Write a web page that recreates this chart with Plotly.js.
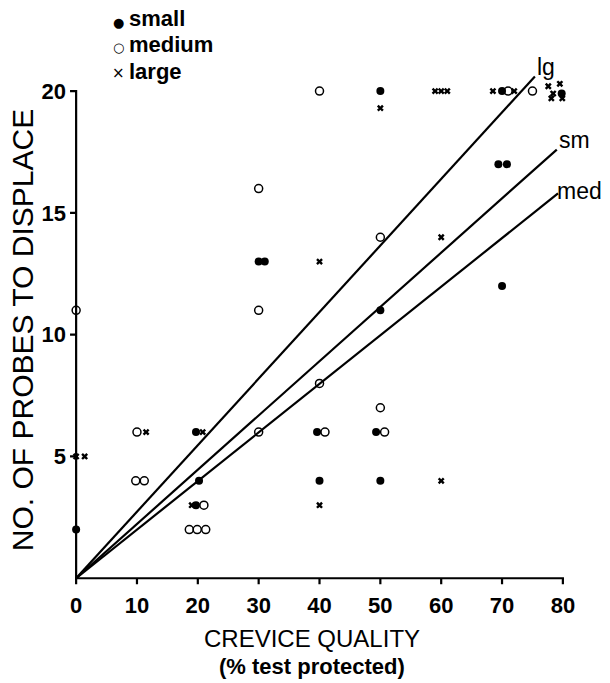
<!DOCTYPE html>
<html>
<head>
<meta charset="utf-8">
<script src="https://cdn.plot.ly/plotly-3.0.1.min.js"></script>
<style>html,body{margin:0;padding:0;background:#fff;}#chart{width:610px;height:683px;}</style>
</head>
<body>
<div id="chart"></div>
<script>
// Data
const smallX = [0, 19.7, 20.2, 19.7, 30, 31, 39.6, 40, 49.3, 50, 50, 50, 69.4, 70.8, 70, 70, 79.8];
const smallY = [2, 6, 4, 3, 13, 13, 6, 4, 6, 4, 11, 20, 17, 17, 12, 20, 19.9];

const mediumX = [0, 10, 9.8, 11.2, 18.6, 19.9, 21.3, 21, 30, 30, 30, 40, 40, 40.9, 50, 50, 50.7, 71, 75];
const mediumY = [11, 6, 4, 4, 2, 2, 2, 3, 16, 11, 6, 20, 8, 6, 14, 7, 6, 20, 20];

const largeX = [0, 1.4, 11.5, 19, 20.8, 40, 40, 50, 59, 60, 61, 60, 60, 68.5, 72, 77.6, 79.5, 78.4, 78.1, 79.9];
const largeY = [5, 5, 6, 3, 6, 13, 3, 19.3, 20, 20, 20, 14, 4, 20, 20, 20.2, 20.3, 19.9, 19.7, 19.7];

// Fitted lines (from origin to end point) and their labels
const lineNames = ["lg", "sm", "med"];
const lineEndX = [75.4, 79.0, 79.2];
const lineEndY = [20.6, 17.6, 15.8];
const lineLabelX = [77.2, 81.9, 82.8];
const lineLabelY = [21.0, 18.0, 15.9];

const xTicks = [0, 10, 20, 30, 40, 50, 60, 70, 80];
const xTickText = ["0", "10", "20", "30", "40", "50", "60", "70", "80"];
const yTicks = [5, 10, 15, 20];
const yTickText = ["5", "10", "15", "20"];

const legendNames = ["small", "medium", "large"];
const legendGlyphs = ["●", "○", "×"];

// style constants (axis units): outward tick lengths
const TICK_X = 1.0, TICK_Y = 0.25;

const FONT = "Liberation Sans, Arial, Helvetica, sans-serif";
const bold = s => "<b>" + s + "</b>";

// Axis frame (stops at the last tick, as in the reference) with outward ticks
const axisX = [], axisY = [];
yTicks.slice().sort((a, b) => b - a).forEach(t => { axisX.push(0, -TICK_X, 0); axisY.push(t, t, t); });
axisX.push(0); axisY.push(0);
xTicks.forEach(t => { axisX.push(t, t, t); axisY.push(0, -TICK_Y, 0); });

const traces = [
  {name: "axes", x: axisX, y: axisY, mode: "lines", type: "scatter", showlegend: false,
   hoverinfo: "skip", line: {color: "#000", width: 2.2, simplify: false}}
];
for (let i = 0; i < lineNames.length; i++) {
  traces.push({
    name: lineNames[i],
    x: [0, lineEndX[i]], y: [0, lineEndY[i]],
    mode: "lines", type: "scatter", showlegend: false, hoverinfo: "skip",
    line: {color: "#000", width: 2.2}
  });
}
traces.push({
  name: "small", x: smallX, y: smallY, type: "scatter", mode: "markers", cliponaxis: false,
  marker: {symbol: "circle", size: 8, color: "#000", line: {width: 0}}
});
traces.push({
  name: "medium", x: mediumX, y: mediumY, type: "scatter", mode: "markers", cliponaxis: false,
  marker: {symbol: "circle-open", size: 8, color: "#000", line: {width: 1.5, color: "#000"}}
});
traces.push({
  name: "large", x: largeX, y: largeY, type: "scatter", mode: "markers", cliponaxis: false,
  marker: {symbol: "x", size: 6, color: "#000", line: {width: 0}}
});

const annotations = lineNames.map((n, i) => ({
  x: lineLabelX[i], y: lineLabelY[i], xref: "x", yref: "y", text: n, showarrow: false,
  font: {family: FONT, size: 23, color: "#000"}, xanchor: "center", yanchor: "middle"
}));
annotations.push({
  xref: "paper", yref: "paper", x: 0.46, y: -0.0948, text: "CREVICE QUALITY",
  showarrow: false, xanchor: "center", yanchor: "middle",
  font: {family: FONT, size: 24, color: "#000"}
});
annotations.push({
  xref: "paper", yref: "paper", x: 0.46, y: -0.1477, text: bold("(% test protected)"),
  showarrow: false, xanchor: "center", yanchor: "middle",
  font: {family: FONT, size: 22, color: "#000"}
});
annotations.push({
  xref: "paper", yref: "paper", x: -0.0844, y: 0.4856, text: "NO. OF PROBES TO DISPLACE",
  textangle: -90, showarrow: false, xanchor: "center", yanchor: "middle",
  font: {family: FONT, size: 30, color: "#000"}
});
// legend drawn as text
const legGlyphY = [1.0658, 1.0178, 0.9698];
const legTextY = [1.0716, 1.0226, 0.9736];
const glyphSize = [13, 13, 15];
legendNames.forEach((n, i) => {
  annotations.push({
    xref: "paper", yref: "paper", x: 0.0957, y: legGlyphY[i], text: legendGlyphs[i],
    showarrow: false, xanchor: "center", yanchor: "middle",
    font: {family: "DejaVu Sans", size: glyphSize[i], color: "#000"}
  });
  annotations.push({
    xref: "paper", yref: "paper", x: 0.1126, y: legTextY[i], text: bold(n),
    showarrow: false, xanchor: "left", yanchor: "middle",
    font: {family: FONT, size: 22, color: "#000"}
  });
});

const layout = {
  width: 610, height: 683,
  margin: {l: 67, r: 10, t: 57, b: 95.3, autoexpand: false},
  paper_bgcolor: "#fff", plot_bgcolor: "#fff",
  showlegend: false,
  xaxis: {
    range: [-1.5, 86.1], tickmode: "array", tickvals: xTicks, ticktext: xTickText.map(bold),
    showgrid: false, zeroline: false, showline: false, ticks: "", ticklabelstandoff: 2,
    tickfont: {family: FONT, size: 22, color: "#000"}
  },
  yaxis: {
    range: [-0.4, 21.4], tickmode: "array", tickvals: yTicks, ticktext: yTickText.map(bold),
    showgrid: false, zeroline: false, showline: false, ticks: "", ticklabelstandoff: 0,
    tickfont: {family: FONT, size: 22, color: "#000"}
  },
  annotations: annotations
};

Plotly.newPlot("chart", traces, layout, {displayModeBar: false});
</script>
</body>
</html>
